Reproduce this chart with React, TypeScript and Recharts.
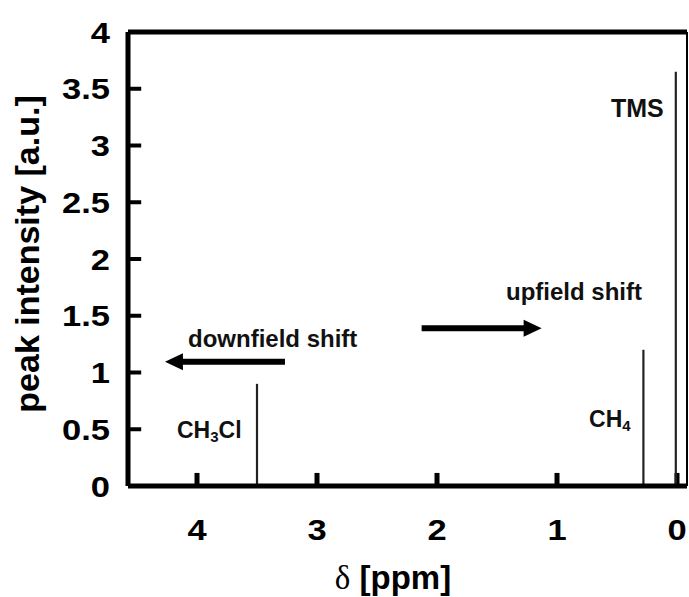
import React from 'react';
import { LineChart, XAxis, YAxis, Line, ReferenceLine, ReferenceDot } from 'recharts';

// peak positions (ppm) and intensities
const peakNames = ['CH3Cl', 'CH4', 'TMS'];
const peakPpm = [3.5, 0.28, 0.01];
const peakIntensity = [0.9, 1.2, 3.65];

const xTicks = [4, 3, 2, 1, 0];
const yTicks = [0, 0.5, 1, 1.5, 2, 2.5, 3, 3.5, 4];
const yTickMarks = [0.5, 1, 1.5, 2, 2.5, 3, 3.5];

const X_DOMAIN: [number, number] = [-0.0833, 4.575];
const Y_DOMAIN: [number, number] = [0, 4];
// inward tick lengths in data units (~13px)
const xTickLen = 0.115;
const yTickLen = 0.11;

// arrows: [fromX, fromY, toX, toY] in data units
const arrows = [
  [3.267, 1.095, 4.267, 1.095],
  [2.128, 1.389, 1.128, 1.389],
];

const FONT = '"Liberation Sans", Arial, Helvetica, sans-serif';

const peakData = peakPpm.map((x, i) => [
  { x, y: 0 },
  { x, y: peakIntensity[i] },
]);

const yTickData = yTickMarks.map((v) => [
  { x: X_DOMAIN[1], y: v },
  { x: X_DOMAIN[1] - yTickLen, y: v },
]);

const xTickData = xTicks.map((v) => [
  { x: v, y: 0 },
  { x: v, y: xTickLen },
]);

const XTick = ({ x, y, payload }: any) => (
  <g transform={`translate(${x},${y + 54}) scale(1.15,1)`}>
    <text textAnchor="middle" fontFamily={FONT} fontWeight="bold" fontSize={30} fill="#000">
      {payload.value}
    </text>
  </g>
);

const YTick = ({ x, y, payload }: any) => (
  <g transform={`translate(${x - 18},${y + 10.5}) scale(1.15,1)`}>
    <text textAnchor="end" fontFamily={FONT} fontWeight="bold" fontSize={30} fill="#000">
      {payload.value}
    </text>
  </g>
);

const ArrowShape = ({ x1, y1, x2, y2 }: any) => {
  const len = Math.hypot(x2 - x1, y2 - y1) || 1;
  const dx = (x2 - x1) / len;
  const dy = (y2 - y1) / len;
  const head = 18;
  const half = 8.5;
  const bx = x2 - dx * head;
  const by = y2 - dy * head;
  return (
    <g>
      <line x1={x1} y1={y1} x2={bx + dx} y2={by + dy} stroke="#000" strokeWidth={6} />
      <polygon
        points={`${x2},${y2} ${bx - dy * half},${by + dx * half} ${bx + dy * half},${by - dx * half}`}
        fill="#000"
      />
    </g>
  );
};

const label = (content: React.ReactNode, size: number) => (p: any) => (
  <text x={p.cx} y={p.cy} fontFamily={FONT} fontWeight="bold" fontSize={size} fill="#111">
    {content}
  </text>
);

const annotations = [
  { x: 0.55, y: 3.251, size: 25, content: 'TMS' },
  { x: 1.425, y: 1.639, size: 24, content: 'upfield shift' },
  { x: 4.075, y: 1.225, size: 24, content: 'downfield shift' },
  {
    x: 0.733,
    y: 0.52,
    size: 23,
    content: (
      <>
        CH<tspan fontSize={15} dy={4}>4</tspan>
      </>
    ),
  },
  {
    x: 4.167,
    y: 0.423,
    size: 23,
    content: (
      <>
        CH<tspan fontSize={15} dy={4}>3</tspan>
        <tspan dy={-4}>Cl</tspan>
      </>
    ),
  },
];

export default function App() {
  return (
    <div style={{ position: 'absolute', left: 0, top: 0, width: 689, height: 597, background: '#fff' }}>
      <LineChart width={689} height={597} margin={{ top: 0, right: 0, bottom: 0, left: 0 }}>
        <XAxis
          type="number"
          dataKey="x"
          domain={X_DOMAIN}
          allowDataOverflow
          reversed
          ticks={xTicks}
          tick={<XTick />}
          tickLine={false}
          tickSize={0}
          tickMargin={0}
          height={111}
          axisLine={{ stroke: '#000', strokeWidth: 5 }}
        />
        <XAxis
          xAxisId="top"
          orientation="top"
          type="number"
          domain={X_DOMAIN}
          allowDataOverflow
          reversed
          tick={false}
          tickLine={false}
          height={32}
          axisLine={{ stroke: '#000', strokeWidth: 5 }}
        />
        <YAxis
          type="number"
          domain={Y_DOMAIN}
          allowDataOverflow
          ticks={yTicks}
          tick={<YTick />}
          tickLine={false}
          tickSize={0}
          tickMargin={0}
          width={128}
          axisLine={{ stroke: '#000', strokeWidth: 5 }}
        />
        <YAxis
          yAxisId="right"
          orientation="right"
          type="number"
          domain={Y_DOMAIN}
          tick={false}
          tickLine={false}
          width={2}
          axisLine={{ stroke: '#000', strokeWidth: 2 }}
        />

        {/* inward tick marks */}
        {yTickData.map((d, i) => (
          <Line
            key={`yt${i}`}
            data={d}
            dataKey="y"
            type="linear"
            stroke="#000"
            strokeWidth={4}
            dot={false}
            activeDot={false}
            isAnimationActive={false}
          />
        ))}
        {xTickData.map((d, i) => (
          <Line
            key={`xt${i}`}
            data={d}
            dataKey="y"
            type="linear"
            stroke="#000"
            strokeWidth={5}
            dot={false}
            activeDot={false}
            isAnimationActive={false}
          />
        ))}

        {peakData.map((d, i) => (
          <Line
            key={peakNames[i]}
            data={d}
            dataKey="y"
            type="linear"
            stroke="#222"
            strokeWidth={2.2}
            dot={false}
            activeDot={false}
            isAnimationActive={false}
          />
        ))}

        {arrows.map((a, i) => (
          <ReferenceLine
            key={`arrow${i}`}
            segment={[
              { x: a[0], y: a[1] },
              { x: a[2], y: a[3] },
            ]}
            shape={<ArrowShape />}
          />
        ))}

        {annotations.map((a, i) => (
          <ReferenceDot key={`ann${i}`} x={a.x} y={a.y} r={0} shape={label(a.content, a.size)} />
        ))}
      </LineChart>
      <svg width={689} height={597} style={{ position: 'absolute', left: 0, top: 0, pointerEvents: 'none' }}>
        <text
          transform="translate(39,254) rotate(-90)"
          textAnchor="middle"
          fontFamily={FONT}
          fontWeight="bold"
          fontSize={34}
          fill="#000"
        >
          peak intensity [a.u.]
        </text>
        <text x={393} y={589} textAnchor="middle" fontFamily={FONT} fontWeight="bold" fontSize={33} fill="#000">
          <tspan fontFamily={'"Liberation Serif", "Times New Roman", serif'} fontWeight="normal">
            δ
          </tspan>{' '}
          [ppm]
        </text>
      </svg>
    </div>
  );
}
